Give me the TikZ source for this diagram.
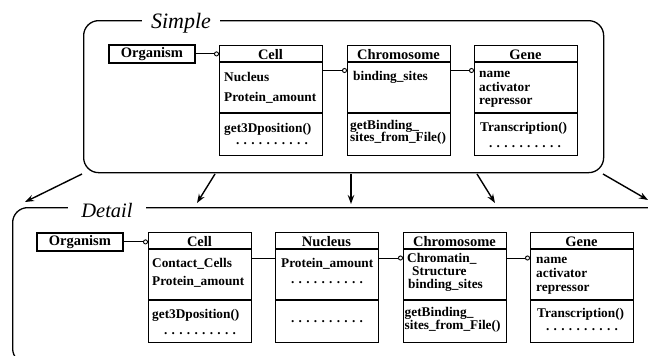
\documentclass[tikz,border=0pt]{standalone}
\usepackage{fontspec}
\setmainfont{Liberation Serif}
\usetikzlibrary{arrows.meta}

% a row of ten spaced dots standing for "and more"
\newcommand\dotgap{\hspace{4.3pt}}
\newcommand\dotrow{.\dotgap.\dotgap.\dotgap.\dotgap.\dotgap.\dotgap.\dotgap.\dotgap.\dotgap.}

\tikzset{
  container/.style={draw, line width=1.3pt, rounded corners=15pt, inner sep=0pt},
  grouptitle/.style={fill=white, inner ysep=2pt, anchor=base, font=\itshape\fontsize{22}{24}\selectfont},
  classbox/.style={draw, line width=1.3pt, minimum width=103pt, minimum height=110pt, inner sep=0pt, anchor=north west},
  plainbox/.style={draw, line width=1.8pt, minimum width=86pt, minimum height=18pt, inner sep=0pt, anchor=north west,
    font=\bfseries\fontsize{14.5}{16}\selectfont},
  head/.style={anchor=base, inner sep=0pt, font=\bfseries\fontsize{14.5}{16}\selectfont},
  txt/.style={anchor=base west, inner sep=0pt, font=\bfseries\fontsize{13.3}{15}\selectfont},
  dotline/.style={anchor=base, inner sep=0pt, font=\bfseries\fontsize{13.3}{15}\selectfont},
  sep/.style={line width=1.3pt},
  link/.style={line width=0.9pt},
  assoc/.style={line width=0.9pt, -{Circle[open, length=5pt, width=5pt, fill=white, line width=0.9pt]}},
  refine/.style={line width=1.4pt, -{Stealth[length=9pt, width=6.5pt]}}
}

\begin{document}
\begin{tikzpicture}[x=1pt, y=-1pt]
\useasboundingbox (0,0) rectangle (648,356);
\clip (0,0) rectangle (648,356);

% ---------- the two groups ----------
\node[container, minimum width=520pt, minimum height=152pt, anchor=north west] (simple) at (83,20) {};
\node[container, minimum width=655pt, minimum height=156pt, anchor=north west] (detail) at (12,207) {};
\node[grouptitle, inner xsep=9pt] (simpleTitle) at (181,28) {Simple};
\node[grouptitle, inner xsep=13.5pt, font=\itshape\fontsize{20.5}{22}\selectfont] (detailTitle) at (107,217) {Detail};

% ---------- Simple model ----------
\node[plainbox] (sOrg) at (108,44) {Organism};

\node[classbox] (sCell) at (219,45) {};
\node[classbox] (sChrom) at (347,45) {};
\node[classbox] (sGene) at (474,45) {};

\foreach \c in {sCell, sChrom, sGene} {
  \draw[sep] (\c.north west) ++(0,17) -- ++(103,0);
  \draw[sep] (\c.north west) ++(0,68) -- ++(103,0);
}

\node[head] (sCellH) at ([shift={(51.5,14)}]sCell.north west) {Cell};
\node[txt] (sCell1) at ([shift={(5,36)}]sCell.north west) {Nucleus};
\node[txt] (sCell2) at ([shift={(5,56)}]sCell.north west) {Protein\_amount};
\node[txt] (sCell3) at ([shift={(5,87)}]sCell.north west) {get3Dposition()};
\node[dotline] (sCell4) at ([shift={(53,99)}]sCell.north west) {\dotrow};

\node[head] (sChromH) at ([shift={(51.5,14)}]sChrom.north west) {Chromosome};
\node[txt] (sChrom1) at ([shift={(6,35)}]sChrom.north west) {binding\_sites};
\node[txt] (sChrom2) at ([shift={(3,84.5)}]sChrom.north west) {getBinding\_};
\node[txt] (sChrom3) at ([shift={(3,96.5)}]sChrom.north west) {sites\_from\_File()};

\node[head] (sGeneH) at ([shift={(51.5,14)}]sGene.north west) {Gene};
\node[txt] (sGene1) at ([shift={(5,32)}]sGene.north west) {name};
\node[txt] (sGene2) at ([shift={(5,46)}]sGene.north west) {activator};
\node[txt] (sGene3) at ([shift={(5,59)}]sGene.north west) {repressor};
\node[txt] (sGene4) at ([shift={(6,86)}]sGene.north west) {Transcription()};
\node[dotline] (sGene5) at ([shift={(51,102)}]sGene.north west) {\dotrow};

\draw[assoc] (sOrg.east) -- (sOrg.east -| sCell.west);
\draw[assoc] ([yshift=-25.5pt]sCell.north east) -- ([yshift=-25.5pt]sChrom.north west);
\draw[assoc] ([yshift=-25.5pt]sChrom.north east) -- ([yshift=-25.5pt]sGene.north west);

% ---------- Detail model ----------
\node[plainbox] (dOrg) at (36,232) {Organism};

\node[classbox] (dCell) at (148,232) {};
\node[classbox] (dNuc) at (275,232) {};
\node[classbox] (dChrom) at (403,232) {};
\node[classbox] (dGene) at (530,232) {};

\foreach \c in {dCell, dNuc, dChrom, dGene} {
  \draw[sep] (\c.north west) ++(0,17) -- ++(103,0);
  \draw[sep] (\c.north west) ++(0,68) -- ++(103,0);
}

\node[head] (dCellH) at ([shift={(51.5,14)}]dCell.north west) {Cell};
\node[txt] (dCell1) at ([shift={(4,35)}]dCell.north west) {Contact\_Cells};
\node[txt] (dCell2) at ([shift={(4,53)}]dCell.north west) {Protein\_amount};
\node[txt] (dCell3) at ([shift={(4,86)}]dCell.north west) {get3Dposition()};
\node[dotline] (dCell4) at ([shift={(52,102)}]dCell.north west) {\dotrow};

\node[head] (dNucH) at ([shift={(51.5,14)}]dNuc.north west) {Nucleus};
\node[txt] (dNuc1) at ([shift={(6,35)}]dNuc.north west) {Protein\_amount};
\node[dotline] (dNuc2) at ([shift={(52,51)}]dNuc.north west) {\dotrow};
\node[dotline] (dNuc3) at ([shift={(52,90)}]dNuc.north west) {\dotrow};

\node[head] (dChromH) at ([shift={(51.5,14)}]dChrom.north west) {Chromosome};
\node[txt] (dChrom1) at ([shift={(4,30)}]dChrom.north west) {Chromatin\_};
\node[txt] (dChrom2) at ([shift={(9,43)}]dChrom.north west) {Structure};
\node[txt] (dChrom3) at ([shift={(5,56)}]dChrom.north west) {binding\_sites};
\node[txt] (dChrom4) at ([shift={(1.5,84.5)}]dChrom.north west) {getBinding\_};
\node[txt] (dChrom5) at ([shift={(1.5,97.5)}]dChrom.north west) {sites\_from\_File()};

\node[head] (dGeneH) at ([shift={(51.5,14)}]dGene.north west) {Gene};
\node[txt] (dGene1) at ([shift={(6,31)}]dGene.north west) {name};
\node[txt] (dGene2) at ([shift={(6,45)}]dGene.north west) {activator};
\node[txt] (dGene3) at ([shift={(6,59)}]dGene.north west) {repressor};
\node[txt] (dGene4) at ([shift={(7,85)}]dGene.north west) {Transcription()};
\node[dotline] (dGene5) at ([shift={(52,98.5)}]dGene.north west) {\dotrow};

\draw[assoc] (dOrg.east) -- (dOrg.east -| dCell.west);
\draw[link] ([yshift=-26pt]dCell.north east) -- ([yshift=-26pt]dNuc.north west);
\draw[assoc] ([yshift=-26pt]dNuc.north east) -- ([yshift=-26pt]dChrom.north west);
\draw[assoc] ([yshift=-26pt]dChrom.north east) -- ([yshift=-26pt]dGene.north west);

% ---------- refinement arrows from Simple to Detail ----------
\coordinate (r1a) at (82,174);  \coordinate (r1b) at (25,202);
\coordinate (r2a) at (215,174); \coordinate (r2b) at (197,203);
\coordinate (r3a) at (351,174); \coordinate (r3b) at (351,204);
\coordinate (r4a) at (477,174); \coordinate (r4b) at (495,203);
\coordinate (r5a) at (603,174); \coordinate (r5b) at (648,200);
\foreach \i in {1,...,5} \draw[refine] (r\i a) -- (r\i b);
\end{tikzpicture}
\end{document}
